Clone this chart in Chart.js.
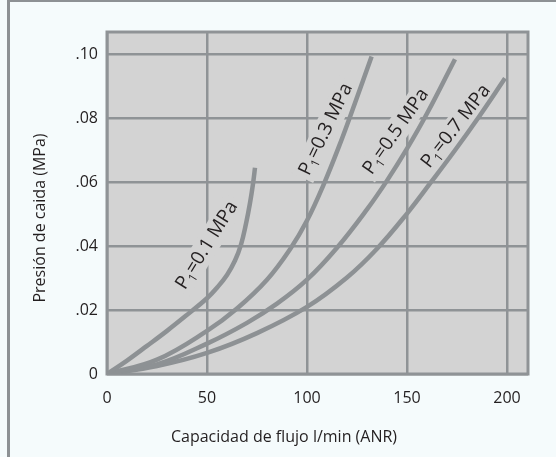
<!DOCTYPE html>
<html>
<head>
<meta charset="utf-8">
<script src="https://cdn.jsdelivr.net/npm/chart.js@4/dist/chart.umd.min.js"></script>
<style>
  html, body { margin: 0; padding: 0; background: #f5fbfc; }
  #wrap { position: relative; width: 556px; height: 457px; overflow: hidden; }
  #frame { position: absolute; left: 7px; top: -1px; width: 620px; height: 520px;
           border: 3px solid #8d9194; box-sizing: border-box; }
  #graph-drop { position: absolute; left: 0; top: 0; }
</style>
</head>
<body>
<div id="wrap">
  <div id="frame"></div>
  <canvas id="graph-drop" width="556" height="457"></canvas>
</div>
<script>
// curves (flow l/min, pressure drop MPa)
var flow01 = [0, 10, 20, 30, 40, 50, 55, 60, 64, 67, 69.5, 71.5, 73, 74];
var drop01 = [0, 0.0042, 0.0088, 0.0135, 0.0185, 0.0237, 0.027, 0.031, 0.0355, 0.0405, 0.047, 0.0535, 0.0595, 0.0645];

var flow03 = [0, 25, 50, 65, 80, 92, 100, 108, 116, 124, 132.3];
var drop03 = [0, 0.0045, 0.0135, 0.0205, 0.0295, 0.0395, 0.048, 0.0588, 0.0712, 0.0848, 0.0993];

var flow05 = [0, 25, 50, 70, 85, 100, 115, 130, 140, 150, 160, 174];
var drop05 = [0, 0.003, 0.0095, 0.016, 0.022, 0.0295, 0.0395, 0.0515, 0.0605, 0.0705, 0.0815, 0.0985];

var flow07 = [0, 25, 50, 75, 100, 120, 135, 150, 162, 174, 186, 199];
var drop07 = [0, 0.0025, 0.0066, 0.0128, 0.021, 0.0302, 0.0392, 0.0502, 0.060, 0.070, 0.0805, 0.0925];

var pressures = ["0.1", "0.3", "0.5", "0.7"];

var xTicks = [0, 50, 100, 150, 200];
var xTickLabels = ["0", "50", "100", "150", "200"];
var yTicks = [0, 0.02, 0.04, 0.06, 0.08, 0.10];
var yTickLabels = ["0", ".02", ".04", ".06", ".08", ".10"];

var xTitle = "Capacidad de flujo l/min (ANR)";
var yTitle = "Presión de caida (MPa)";

// where each P1 label sits along its curve (data coords + rotation)
var labelSpots = [
    { x: 50, y: 0.0403, angle: -58 },
    { x: 109.5, y: 0.0766, angle: -64 },
    { x: 144.5, y: 0.0759, angle: -55 },
    { x: 174.5, y: 0.0775, angle: -52 }
];

var FONT = "'Open Sans', sans-serif";
var INK = "#231f20";
var GRID = "#8f9396";
var CURVE = "#8d9194";
var PLOT_BG = "#d3d3d3";

function pts(xs, ys) {
    var out = [];
    for (var i = 0; i < xs.length; i++) out.push({ x: xs[i], y: ys[i] });
    return out;
}

function curve(xs, ys) {
    return {
        data: pts(xs, ys),
        borderColor: CURVE,
        borderWidth: 4.5,
        pointRadius: 0,
        fill: false,
        tension: 0.4,
        borderCapStyle: "butt"
    };
}

// plot background + frame, then the P1 labels on top of the grid
var plotDecor = {
    id: "plotDecor",
    beforeDraw: function (chart) {
        var a = chart.chartArea, ctx = chart.ctx;
        ctx.save();
        ctx.fillStyle = PLOT_BG;
        ctx.fillRect(a.left, a.top, a.right - a.left, a.bottom - a.top);
        ctx.restore();
    },
    beforeDatasetsDraw: function (chart) {
        var a = chart.chartArea, ctx = chart.ctx;
        ctx.save();
        ctx.strokeStyle = GRID;
        ctx.lineWidth = 3;
        ctx.strokeRect(a.left, a.top, a.right - a.left, a.bottom - a.top);

        var xs = chart.scales.x, ys = chart.scales.y;
        for (var i = 0; i < pressures.length; i++) {
            var s = labelSpots[i];
            drawLabel(ctx, xs.getPixelForValue(s.x), ys.getPixelForValue(s.y), s.angle, pressures[i]);
        }
        ctx.restore();
    },
    afterDraw: function (chart) {
        var ctx = chart.ctx;
        ctx.save();
        ctx.fillStyle = INK;
        ctx.font = "16px " + FONT;
        ctx.textAlign = "center";
        ctx.textBaseline = "middle";
        ctx.fillText(xTitle, 284, 437);
        ctx.translate(40, 218);
        ctx.rotate(-Math.PI / 2);
        ctx.fillText(yTitle, 0, 0);
        ctx.restore();
    }
};

function drawLabel(ctx, cx, cy, angle, p) {
    var big = "19px " + FONT, small = "12px " + FONT;
    var rest = "=" + p + " MPa";
    ctx.save();
    ctx.font = big;
    var wP = ctx.measureText("P").width;
    var wR = ctx.measureText(rest).width;
    ctx.font = small;
    var w1 = ctx.measureText("1").width;
    var total = wP + w1 + wR;

    ctx.translate(cx, cy);
    ctx.rotate(angle * Math.PI / 180);
    ctx.fillStyle = PLOT_BG;
    ctx.fillRect(-total / 2 - 4, -12, total + 8, 24);

    ctx.fillStyle = INK;
    ctx.textBaseline = "middle";
    ctx.textAlign = "left";
    var x0 = -total / 2;
    ctx.font = big;
    ctx.fillText("P", x0, 0);
    ctx.font = small;
    ctx.fillText("1", x0 + wP, 6);
    ctx.font = big;
    ctx.fillText(rest, x0 + wP + w1, 0);
    ctx.restore();
}

new Chart("graph-drop", {
    type: "line",
    data: {
        datasets: [
            curve(flow01, drop01),
            curve(flow03, drop03),
            curve(flow05, drop05),
            curve(flow07, drop07)
        ]
    },
    options: {
        responsive: false,
        animation: false,
        parsing: false,
        layout: { padding: { top: 32, right: 28, left: 0, bottom: 0 } },
        plugins: { legend: { display: false }, tooltip: { enabled: false } },
        scales: {
            x: {
                type: "linear",
                min: 0,
                max: 210.5,
                afterBuildTicks: function (s) { s.ticks = xTicks.map(function (v) { return { value: v }; }); },
                afterFit: function (s) { s.height = 83; },
                grid: { color: GRID, lineWidth: 2.5, drawTicks: false },
                border: { display: false },
                ticks: {
                    padding: 15,
                    color: INK,
                    font: { family: FONT, size: 16 },
                    maxRotation: 0,
                    callback: function (v) { return xTickLabels[xTicks.indexOf(v)]; }
                }
            },
            y: {
                type: "linear",
                min: 0,
                max: 0.107,
                afterBuildTicks: function (s) { s.ticks = yTicks.map(function (v) { return { value: v }; }); },
                afterFit: function (s) { s.width = 107; },
                grid: { color: GRID, lineWidth: 2.5, drawTicks: false },
                border: { display: false },
                ticks: {
                    padding: 9,
                    color: INK,
                    font: { family: FONT, size: 16 },
                    callback: function (v) {
                        for (var i = 0; i < yTicks.length; i++) {
                            if (Math.abs(yTicks[i] - v) < 1e-9) return yTickLabels[i];
                        }
                        return "";
                    }
                }
            }
        }
    },
    plugins: [plotDecor]
});
</script>
</body>
</html>
